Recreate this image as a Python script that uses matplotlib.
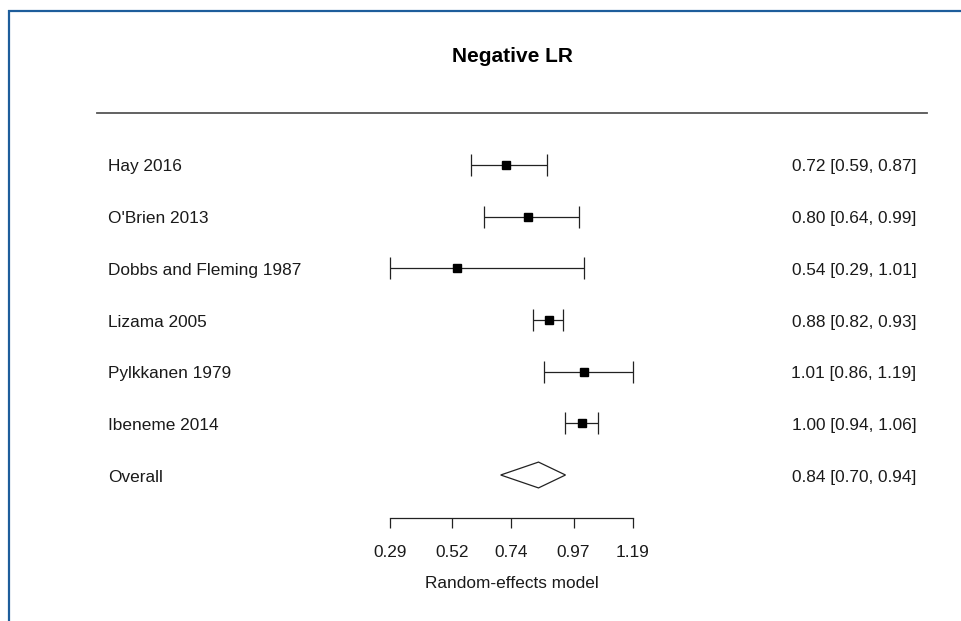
import matplotlib
matplotlib.use('Agg')
import matplotlib.pyplot as plt
from matplotlib.patches import Polygon
from matplotlib.lines import Line2D

plt.rcParams['font.family'] = ['Liberation Sans', 'DejaVu Sans']

# study data (values as printed in the picture)
studies = ["Hay 2016", "O'Brien 2013", "Dobbs and Fleming 1987", "Lizama 2005",
           "Pylkkanen 1979", "Ibeneme 2014"]
est = [0.72, 0.80, 0.54, 0.88, 1.01, 1.00]
lo = [0.59, 0.64, 0.29, 0.82, 0.86, 0.94]
hi = [0.87, 0.99, 1.01, 0.93, 1.19, 1.06]

overall_label = "Overall"
overall_est = 0.84
overall_lo = 0.70
overall_hi = 0.94

xticks = [0.29, 0.52, 0.74, 0.97, 1.19]
title = "Negative LR"
xlab = "Random-effects model"

W, H = 962, 621
fig = plt.figure(figsize=(W / 100, H / 100), dpi=100)
fig.patch.set_facecolor('white')

# axes: top of figure down to the x axis line (pixel 518)
ax = fig.add_axes([0, (H - 518) / H, 1, 518 / H])
px_per_unit = 270.0
ax.set_xlim(0.29 - 390 / px_per_unit, 0.29 + (W - 390) / px_per_unit)
row_h = 51.667
ax.set_ylim((518 - 165) / row_h, -165 / row_h)

txt = '#1a1a1a'
fs = 12.4
rows = list(range(len(studies)))
ytf = ax.get_yaxis_transform()
nudge = 2 / row_h  # text boxes sit a bit high when centred

# confidence intervals and point estimates
for r, e, l, h in zip(rows, est, lo, hi):
    ax.errorbar(e, r, xerr=[[e - l], [h - e]], fmt='none', ecolor='#222222',
                elinewidth=0.9, capsize=7.9, capthick=0.9)
ax.plot(est, rows, 's', color='black', markersize=5.4, linestyle='none')

# summary diamond
r_ov = len(studies)
dh = 0.25
diamond = Polygon([(overall_lo, r_ov), (overall_est, r_ov - dh),
                   (overall_hi, r_ov), (overall_est, r_ov + dh)],
                  closed=True, facecolor='white', edgecolor='#222222', linewidth=0.9)
ax.add_patch(diamond)

# left labels and right-hand estimates
labels = studies + [overall_label]
vals = list(zip(est, lo, hi)) + [(overall_est, overall_lo, overall_hi)]
for r, (name, (e, l, h)) in enumerate(zip(labels, vals)):
    ax.text(108 / W, r + nudge, name, transform=ytf, ha='left', va='center',
            fontsize=fs, color=txt)
    ax.text(916.5 / W, r + nudge, '%.2f [%.2f, %.2f]' % (e, l, h), transform=ytf,
            ha='right', va='center', fontsize=fs, color=txt)

# header rule
ax.plot([97 / W, 927 / W], [-1.006, -1.006], transform=ytf, color='#555555',
        linewidth=1.3, clip_on=False)

# x axis
for s in ['top', 'left', 'right']:
    ax.spines[s].set_visible(False)
ax.spines['bottom'].set_bounds(xticks[0], xticks[-1])
ax.spines['bottom'].set_color('#222222')
ax.spines['bottom'].set_linewidth(0.9)
ax.set_xticks(xticks)
ax.set_xticklabels(['%.2f' % t for t in xticks])
ax.tick_params(axis='x', direction='out', length=7.2, width=0.9, color='#222222',
               labelsize=fs, labelcolor=txt, pad=12)
ax.set_yticks([])
ax.set_xlabel(xlab, fontsize=fs, color=txt, va='center')
ax.xaxis.set_label_coords((390 + 633) / 2 / W, -(583 - 518) / 518)

fig.text(512.5 / W, 1 - 57 / H, title, ha='center', va='center', fontsize=15,
         fontweight='bold', color='black')

# blue frame of the screenshot
frame = '#1d5d9b'
fig.add_artist(Line2D([9 / W, 9 / W], [0, 1 - 10 / H], transform=fig.transFigure,
                      color=frame, linewidth=1.6, solid_capstyle='butt'))
fig.add_artist(Line2D([8.2 / W, 1], [1 - 10.5 / H, 1 - 10.5 / H], transform=fig.transFigure,
                      color=frame, linewidth=1.6, solid_capstyle='butt'))

fig.savefig('out.png', dpi=100, facecolor='white')
